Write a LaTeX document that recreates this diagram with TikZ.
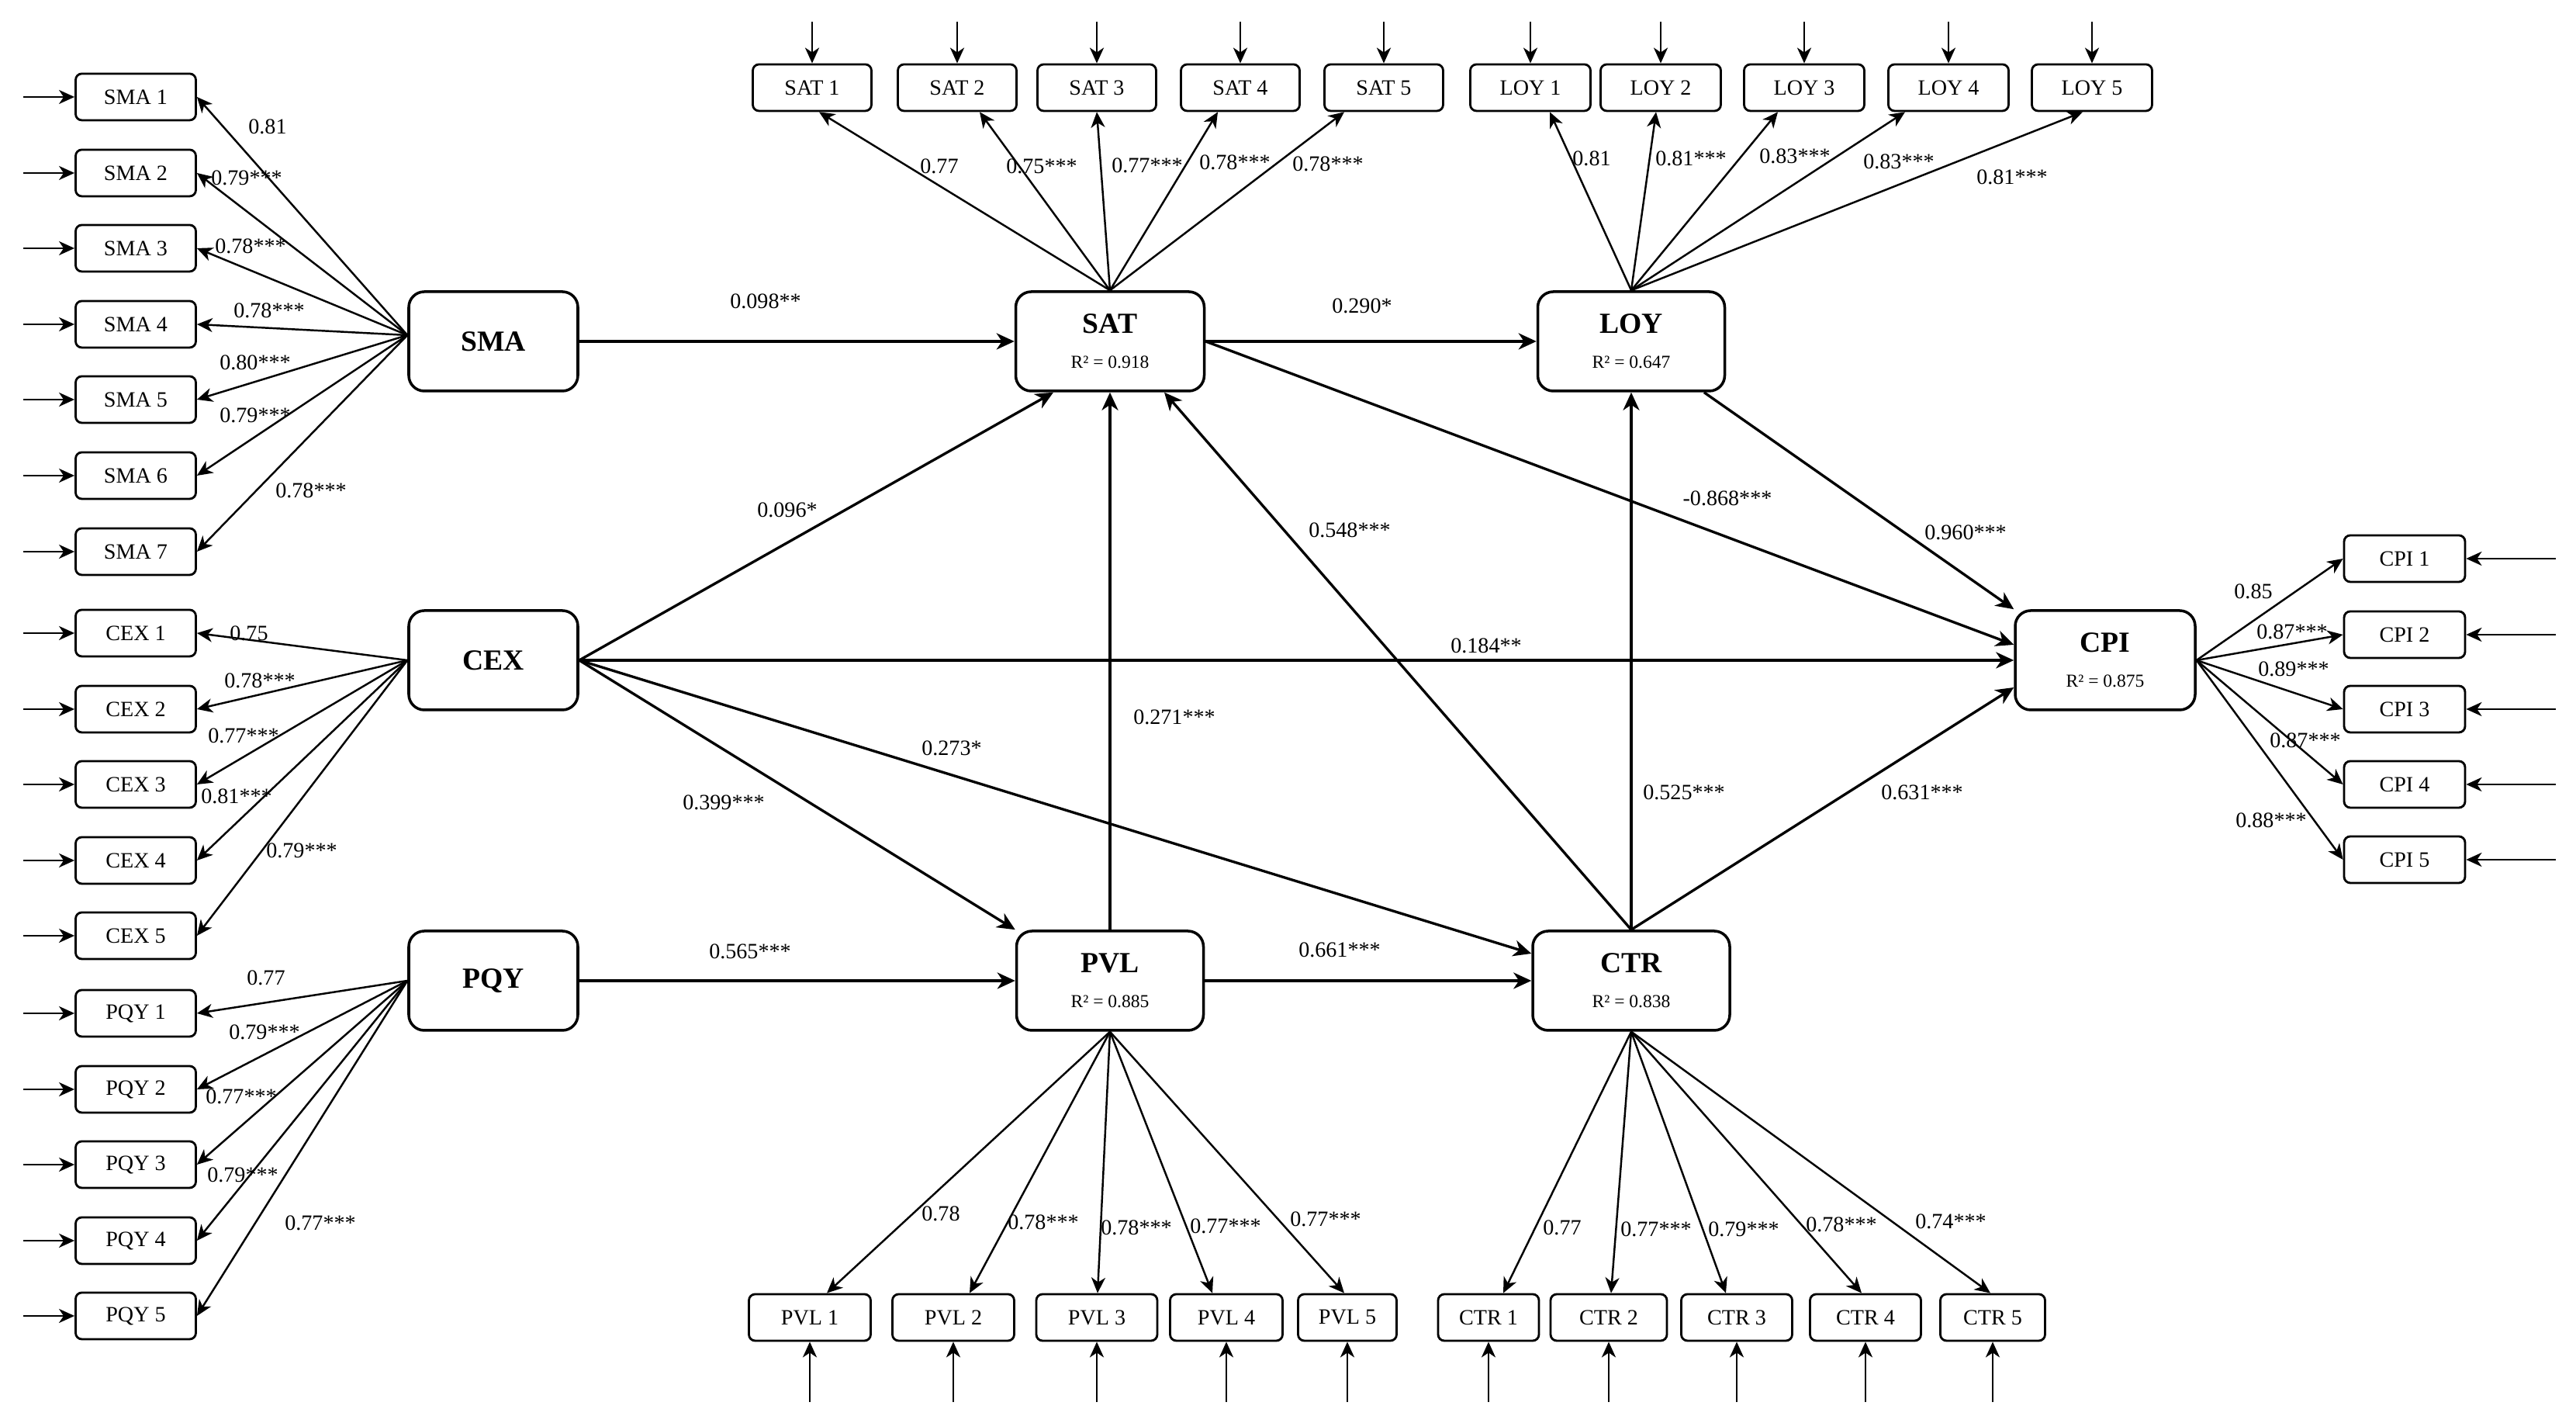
\documentclass[tikz,border=0pt]{standalone}
\usepackage{fontspec}
\setmainfont{Liberation Serif}
\usetikzlibrary{arrows.meta}

\newcommand{\rsq}[1]{{\mdseries\fontsize{6.7}{8}\selectfont R² = #1}}

\begin{document}
\begin{tikzpicture}[
    ind/.style={draw, rounded corners=0.8mm, line width=0.8pt, minimum width=1.55cm, minimum height=0.6cm, inner sep=0pt, font=\fontsize{8}{9.6}\selectfont},
    latent/.style={draw, rounded corners=2mm, line width=1pt, minimum height=1.28cm, inner sep=0pt, align=center, font=\fontsize{10.7}{12.8}\selectfont\bfseries},
    coef/.style={inner sep=0pt, font=\fontsize{8}{9.6}\selectfont},
    struct/.style={-{Stealth[length=2.3mm, width=2.1mm, inset=0.7mm]}, line width=0.95pt},
    load/.style={-{Stealth[length=2mm, width=1.8mm, inset=0.6mm]}, line width=0.7pt},
    err/.style={-{Stealth[length=2mm, width=1.8mm, inset=0.6mm]}, line width=0.8pt}]

        \useasboundingbox (0,0) rectangle (33.21,18.34);

        % --- LATENT CONSTRUCTS ---
        \node[latent, minimum width=2.18cm] (SMA) at (6.36,13.94) {SMA};
        \node[latent, minimum width=2.18cm] (CEX) at (6.36,9.83) {CEX};
        \node[latent, minimum width=2.18cm] (PQY) at (6.36,5.70) {PQY};
        \node[latent, minimum width=2.43cm] (SAT) at (14.31,13.94) {SAT\\\rsq{0.918}};
        \node[latent, minimum width=2.41cm] (LOY) at (21.03,13.94) {LOY\\\rsq{0.647}};
        \node[latent, minimum width=2.32cm] (CPI) at (27.14,9.83) {CPI\\\rsq{0.875}};
        \node[latent, minimum width=2.41cm] (PVL) at (14.31,5.70) {PVL\\\rsq{0.885}};
        \node[latent, minimum width=2.54cm] (CTR) at (21.03,5.70) {CTR\\\rsq{0.838}};

        % --- STRUCTURAL PATHS ---
        \draw[struct] (SMA.east) -- (SAT.west);
        \draw[struct] (SAT.east) -- (LOY.west);
        \draw[struct] (SAT.east) -- ([yshift=2mm]CPI.west);
        \draw[struct] (LOY) -- (CPI.north west);
        \draw[struct] (CEX.east) -- (CPI.west);
        \draw[struct] (CEX.east) -- ([xshift=-7.3mm]SAT.south);
        \draw[struct] (CEX.east) -- (PVL.north west);
        \draw[struct] (CEX.east) -- ([yshift=3.5mm]CTR.west);
        \draw[struct] (PQY.east) -- (PVL.west);
        \draw[struct] (PVL.east) -- (CTR.west);
        \draw[struct] (PVL.north) -- (SAT.south);
        \draw[struct] (CTR.north) -- ([xshift=7mm]SAT.south);
        \draw[struct] (CTR.north) -- (LOY.south);
        \draw[struct] (CTR.north) -- ([yshift=-3.5mm]CPI.west);

        \node[coef] (pSMASAT) at (9.87,14.46) {0.098**};
        \node[coef] (pSATLOY) at (17.56,14.40) {0.290*};
        \node[coef] (pCEXSAT) at (10.15,11.77) {0.096*};
        \node[coef] (pSATCPI) at (22.27,11.92) {-0.868***};
        \node[coef] (pLOYCPI) at (25.34,11.48) {0.960***};
        \node[coef] (pCTRSAT) at (17.40,11.51) {0.548***};
        \node[coef] (pCEXCPI) at (19.16,10.02) {0.184**};
        \node[coef] (pPVLSAT) at (15.14,9.10) {0.271***};
        \node[coef] (pCEXCTR) at (12.27,8.70) {0.273*};
        \node[coef] (pCEXPVL) at (9.33,8.00) {0.399***};
        \node[coef] (pCTRLOY) at (21.71,8.13) {0.525***};
        \node[coef] (pCTRCPI) at (24.78,8.13) {0.631***};
        \node[coef] (pPQYPVL) at (9.67,6.08) {0.565***};
        \node[coef] (pPVLCTR) at (17.27,6.10) {0.661***};

        % --- LEFT INDICATORS ---
        % (1) SMA
        \foreach \i/\y/\lx/\ly/\val in {1/17.09/3.45/16.71/0.81, 2/16.11/3.18/16.05/0.79***, 3/15.14/3.23/15.17/0.78***, 4/14.16/3.47/14.34/0.78***, 5/13.19/3.29/13.67/0.80***, 6/12.21/3.29/12.99/0.79***, 7/11.23/4.01/12.02/0.78***}{
            \node[ind] (SMA\i) at (1.75,\y) {SMA \i};
            \coordinate (eSMA\i) at (0.30,\y);
            \draw[err] (eSMA\i) -- (SMA\i.west);
            \draw[load] ([yshift=0.8mm]SMA.west) -- (SMA\i.east);
            \node[coef] (cSMA\i) at (\lx,\ly) {\val};
        }

        % (2) CEX
        \foreach \i/\y/\lx/\ly/\val in {1/10.18/3.21/10.18/0.75, 2/9.20/3.35/9.57/0.78***, 3/8.23/3.14/8.86/0.77***, 4/7.25/3.05/8.08/0.81***, 5/6.28/3.89/7.38/0.79***}{
            \node[ind] (CEX\i) at (1.75,\y) {CEX \i};
            \coordinate (eCEX\i) at (0.30,\y);
            \draw[err] (eCEX\i) -- (CEX\i.west);
            \draw[load] (CEX.west) -- (CEX\i.east);
            \node[coef] (cCEX\i) at (\lx,\ly) {\val};
        }

        % (3) PQY
        \foreach \i/\y/\lx/\ly/\val in {1/5.28/3.43/5.74/0.77, 2/4.30/3.41/5.04/0.79***, 3/3.33/3.11/4.21/0.77***, 4/2.35/3.13/3.20/0.79***, 5/1.38/4.13/2.58/0.77***}{
            \node[ind] (PQY\i) at (1.75,\y) {PQY \i};
            \coordinate (ePQY\i) at (0.30,\y);
            \draw[err] (ePQY\i) -- (PQY\i.west);
            \draw[load] (PQY.west) -- (PQY\i.east);
            \node[coef] (cPQY\i) at (\lx,\ly) {\val};
        }

        % --- TOP INDICATORS ---
        % (4) SAT
        \foreach \i/\x/\dx/\lx/\ly/\val in {1/10.47/0.09/12.11/16.20/0.77, 2/12.34/0.29/13.43/16.20/0.75***, 3/14.14/0/14.79/16.21/0.77***, 4/15.99/-0.29/15.92/16.25/0.78***, 5/17.84/-0.51/17.12/16.23/0.78***}{
            \node[ind, minimum width=1.53cm] (SAT\i) at (\x,17.21) {SAT \i};
            \coordinate (eSAT\i) at (\x,18.06);
            \draw[err] (eSAT\i) -- (SAT\i.north);
            \draw[load] (SAT.north) -- ([xshift=\dx cm]SAT\i.south);
            \node[coef] (cSAT\i) at (\lx,\ly) {\val};
        }

        % (5) LOY
        \foreach \i/\x/\dx/\lx/\ly/\val in {1/19.73/0.25/20.52/16.30/0.81, 2/21.41/-0.06/21.80/16.30/0.81***, 3/23.26/-0.34/23.14/16.33/0.83***, 4/25.12/-0.56/24.48/16.26/0.83***, 5/26.97/-0.12/25.94/16.06/0.81***}{
            \node[ind] (LOY\i) at (\x,17.21) {LOY \i};
            \coordinate (eLOY\i) at (\x,18.06);
            \draw[err] (eLOY\i) -- (LOY\i.north);
            \draw[load] (LOY.north) -- ([xshift=\dx cm]LOY\i.south);
            \node[coef] (cLOY\i) at (\lx,\ly) {\val};
        }

        % --- RIGHT INDICATORS ---
        % (6) CPI
        \foreach \i/\y/\lx/\ly/\val in {1/11.14/29.05/10.72/0.85, 2/10.16/29.55/10.20/0.87***, 3/9.20/29.57/9.72/0.89***, 4/8.23/29.72/8.80/0.87***, 5/7.26/29.28/7.77/0.88***}{
            \node[ind, minimum width=1.56cm] (CPI\i) at (31.00,\y) {CPI \i};
            \coordinate (eCPI\i) at (32.95,\y);
            \draw[err] (eCPI\i) -- (CPI\i.east);
            \draw[load] (CPI.east) -- (CPI\i.west);
            \node[coef] (cCPI\i) at (\lx,\ly) {\val};
        }

        % --- BOTTOM INDICATORS ---
        % (7) PVL
        \foreach \i/\x/\w/\dx/\lx/\ly/\val in {1/10.44/1.57/0.22/12.13/2.70/0.78, 2/12.29/1.57/0.21/13.45/2.59/0.78***, 3/14.14/1.56/0.01/14.65/2.52/0.78***, 4/15.81/1.45/-0.18/15.80/2.54/0.77***, 5/17.37/1.27/-0.04/17.09/2.63/0.77***}{
            \node[ind, minimum width=\w cm] (PVL\i) at (\x,1.36) {PVL \i};
            \coordinate (ePVL\i) at (\x,0.27);
            \draw[err] (ePVL\i) -- (PVL\i.south);
            \draw[load] (PVL.south) -- ([xshift=\dx cm]PVL\i.north);
            \node[coef] (cPVL\i) at (\lx,\ly) {\val};
        }

        % (8) CTR
        \foreach \i/\x/\w/\dx/\lx/\ly/\val in {1/19.19/1.30/0.19/20.14/2.52/0.77, 2/20.74/1.50/0.03/21.35/2.50/0.77***, 3/22.39/1.43/-0.14/22.48/2.50/0.79***, 4/24.05/1.43/-0.05/23.74/2.56/0.78***, 5/25.69/1.35/-0.03/25.15/2.60/0.74***}{
            \node[ind, minimum width=\w cm] (CTR\i) at (\x,1.36) {CTR \i};
            \coordinate (eCTR\i) at (\x,0.27);
            \draw[err] (eCTR\i) -- (CTR\i.south);
            \draw[load] (CTR.south) -- ([xshift=\dx cm]CTR\i.north);
            \node[coef] (cCTR\i) at (\lx,\ly) {\val};
        }

    \end{tikzpicture}
\end{document}
